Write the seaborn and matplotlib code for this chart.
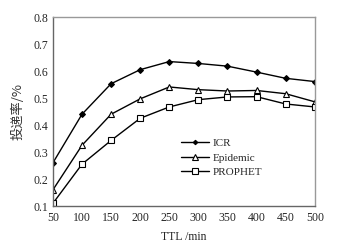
import matplotlib
matplotlib.use("Agg")
import matplotlib.pyplot as plt
import seaborn as sns
import pandas as pd

ttl = [50, 100, 150, 200, 250, 300, 350, 400, 450, 500]
icr = [0.26, 0.44, 0.553, 0.605, 0.635, 0.628, 0.618, 0.596, 0.573, 0.561]
epidemic = [0.16, 0.325, 0.44, 0.497, 0.541, 0.531, 0.526, 0.528, 0.516, 0.486]
prophet = [0.11, 0.255, 0.343, 0.425, 0.467, 0.494, 0.504, 0.505, 0.478, 0.467]
series_names = ["ICR", "Epidemic", "PROPHET"]
yticks = [0.1, 0.2, 0.3, 0.4, 0.5, 0.6, 0.7, 0.8]
xticks = [50, 100, 150, 200, 250, 300, 350, 400, 450, 500]

df = pd.DataFrame({
    "TTL": ttl * 3,
    "rate": icr + epidemic + prophet,
    "series": sum([[n] * len(ttl) for n in series_names], []),
})

sns.set_style("white")
plt.rcParams["font.family"] = ["Liberation Serif", "Noto Sans CJK SC"]
plt.rcParams["xtick.direction"] = "in"
plt.rcParams["ytick.direction"] = "in"

fig = plt.figure(figsize=(3.37, 2.43), dpi=100)
ax = fig.add_axes([0.157, 0.152, 0.777, 0.778])

markers = {"ICR": "D", "Epidemic": "^", "PROPHET": "s"}
sizes = {"ICR": 3, "Epidemic": 5, "PROPHET": 5}
for name in series_names:
    sub = df[df["series"] == name]
    sns.lineplot(data=sub, x="TTL", y="rate", ax=ax, color="black", lw=1.0,
                 marker=markers[name], markersize=sizes[name],
                 markerfacecolor="black" if name == "ICR" else "white",
                 markeredgecolor="black", markeredgewidth=0.8, label=name)

ax.set_xlim(50, 500)
ax.set_ylim(0.1, 0.8)
ax.set_xticks(xticks)
ax.set_yticks(yticks)
ax.set_xticklabels([str(v) for v in xticks], fontsize=8.5)
ax.set_yticklabels([f"{v:.1f}" for v in yticks], fontsize=8.5)
ax.tick_params(axis="both", length=3, width=0.8, color="#555555")
ax.tick_params(axis="x", pad=4)
ax.tick_params(axis="y", pad=3)
for s in ax.spines.values():
    s.set_color("#999999")
    s.set_linewidth(1.0)
ax.spines["left"].set_color("#666666")
ax.spines["bottom"].set_color("#666666")
ax.set_xlabel("TTL /min", fontsize=8.5, labelpad=5)
ax.set_ylabel("投递率/%", fontsize=9.5, family=["Noto Sans CJK SC", "DejaVu Sans"],
              labelpad=7, color="#333333")
leg = ax.legend(loc="upper left", bbox_to_anchor=(0.49, 0.36), frameon=False,
                fontsize=8, handlelength=2.5, handletextpad=0.3,
                labelspacing=0.45, borderaxespad=0, borderpad=0, markerscale=0.75)
fig.savefig("out.png", dpi=100)
